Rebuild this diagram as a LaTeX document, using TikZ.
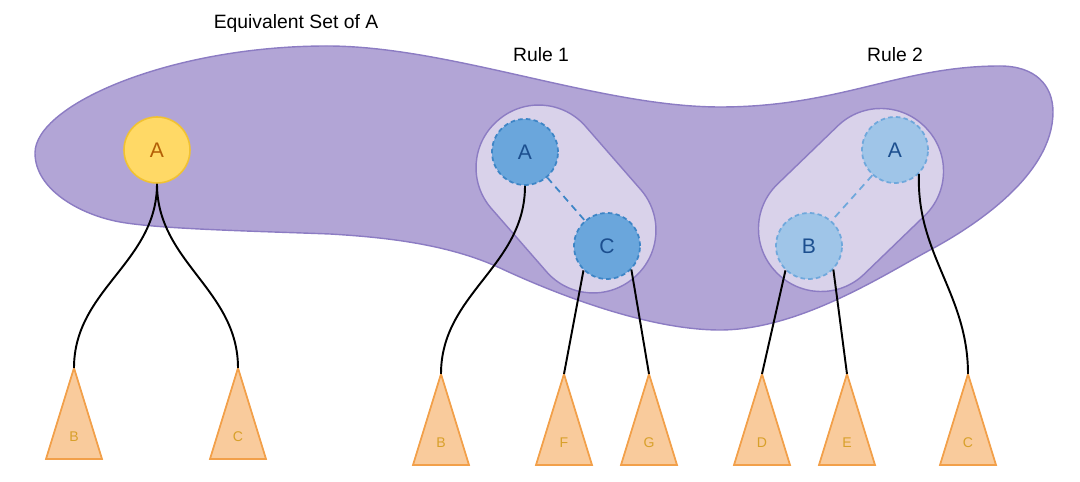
\documentclass[tikz,border=0pt]{standalone}
\usepackage{fontspec}
\setmainfont{Liberation Sans}
\usetikzlibrary{calc}
\definecolor{blobfill}{HTML}{B2A5D6}
\definecolor{blobline}{HTML}{8C7CC3}
\definecolor{setfill}{HTML}{D9D2EA}
\definecolor{ronefill}{HTML}{6AA6DC}
\definecolor{roneline}{HTML}{3D85C6}
\definecolor{rtwofill}{HTML}{9FC5E8}
\definecolor{rtwoline}{HTML}{6FA8DC}
\definecolor{lettblue}{HTML}{1C4F8F}
\definecolor{yfill}{HTML}{FFD966}
\definecolor{yline}{HTML}{F1C232}
\definecolor{ytext}{HTML}{B45F06}
\definecolor{trifill}{HTML}{F9CB9C}
\definecolor{triline}{HTML}{F2A04A}
\definecolor{tritext}{HTML}{D8A02A}
\newcommand\subtree[5]{% name, x, apex y, base y, label
  \draw[trishape] (#2,#3) -- (#2+28,#4) -- (#2-28,#4) -- cycle;
  \coordinate (#1) at (#2,#3);
  \node[trilab] (#1-lab) at (#2,{#3+0.75*(#4-#3)}) {#5};
}
\begin{document}
\begin{tikzpicture}[x=0.02cm,y=-0.02cm,
  lbl/.style={font=\fontsize{11}{13}\selectfont, text=black, inner sep=0},
  yel/.style={circle, minimum size=1.32cm, inner sep=0, fill=yfill, draw=yline,
    line width=0.9pt, text=ytext, font=\fontsize{12}{14}\selectfont},
  rone/.style={circle, minimum size=1.32cm, inner sep=0, fill=ronefill, draw=roneline,
    line width=1pt, dash pattern=on 2.6pt off 1.8pt, text=lettblue, font=\fontsize{12}{14}\selectfont},
  rtwo/.style={circle, minimum size=1.32cm, inner sep=0, fill=rtwofill, draw=rtwoline,
    line width=1pt, dash pattern=on 2.6pt off 1.8pt, text=lettblue, font=\fontsize{12}{14}\selectfont},
  setbox/.style={rectangle, inner sep=0, fill=setfill, draw=blobline, line width=0.8pt,
    minimum width=4.16cm, minimum height=2.5cm, rounded corners=1.24cm},
  link/.style={draw=black, line width=1.1pt},
  samelink/.style={line width=1pt, dash pattern=on 4pt off 3pt},
  trilab/.style={font=\fontsize{8}{9}\selectfont, text=tritext, inner sep=0},
  trishape/.style={fill=trifill, draw=triline, line width=1pt},
]
\useasboundingbox (0,0) rectangle (1080,482);

% outer set
\draw[fill=blobfill, draw=blobline, line width=0.8pt]
  (35,153) .. controls (35,105) and (170,46) .. (327,46)
  .. controls (450,46) and (600,107) .. (720,107)
  .. controls (840,107) and (900,66) .. (1000,66)
  .. controls (1035,66) and (1053,85) .. (1053,112)
  .. controls (1053,175) and (974,226.5) .. (930,250)
  .. controls (886,273.5) and (800,330) .. (720,330)
  .. controls (650,330) and (560,296) .. (500,268)
  .. controls (446,243) and (380,237) .. (330,234)
  .. controls (250,231) and (159,229) .. (120,222)
  .. controls (81,215) and (35,190) .. (35,153) -- cycle;

% rule sets
\node[setbox, rotate=-48.9] (set1) at (566,199) {};
\node[setbox, rotate=44] (set2) at (851,200) {};

% labels
\node[lbl] (title) at (296,24) {Equivalent Set of A};
\node[lbl] (rule1) at (541,55) {Rule 1};
\node[lbl] (rule2) at (895,55) {Rule 2};

% circles
\node[yel] (ya) at (157,150) {A};
\node[rone] (a1) at (525,152) {A};
\node[rone] (c1) at (607,246) {C};
\node[rtwo] (a2) at (895,150) {A};
\node[rtwo] (b2) at (809,246) {B};

% subtrees
\subtree{tb1}{74}{368}{459}{B}
\subtree{tc1}{238}{368}{459}{C}
\subtree{tb2}{441}{374}{465}{B}
\subtree{tf}{564}{374}{465}{F}
\subtree{tg}{649}{374}{465}{G}
\subtree{td}{762}{374}{465}{D}
\subtree{te}{847}{374}{465}{E}
\subtree{tc3}{968}{374}{465}{C}

% equivalence links
\draw[samelink, draw=roneline] (a1) -- (c1);
\draw[samelink, draw=rtwoline] (a2) -- (b2);

% children
\draw[link] (ya.south) to[out=-90,in=90] (tb1);
\draw[link] (ya.south) to[out=-90,in=90] (tc1);
\draw[link] (a1.south) to[out=-90,in=90] (tb2);
\draw[link] (c1.-134) -- (tf);
\draw[link] (c1.-44) -- (tg);
\draw[link] (b2.-134) -- (td);
\draw[link] (b2.-44) -- (te);
\draw[link] (a2.-45) to[out=-92,in=90] (tc3);
\end{tikzpicture}
\end{document}
